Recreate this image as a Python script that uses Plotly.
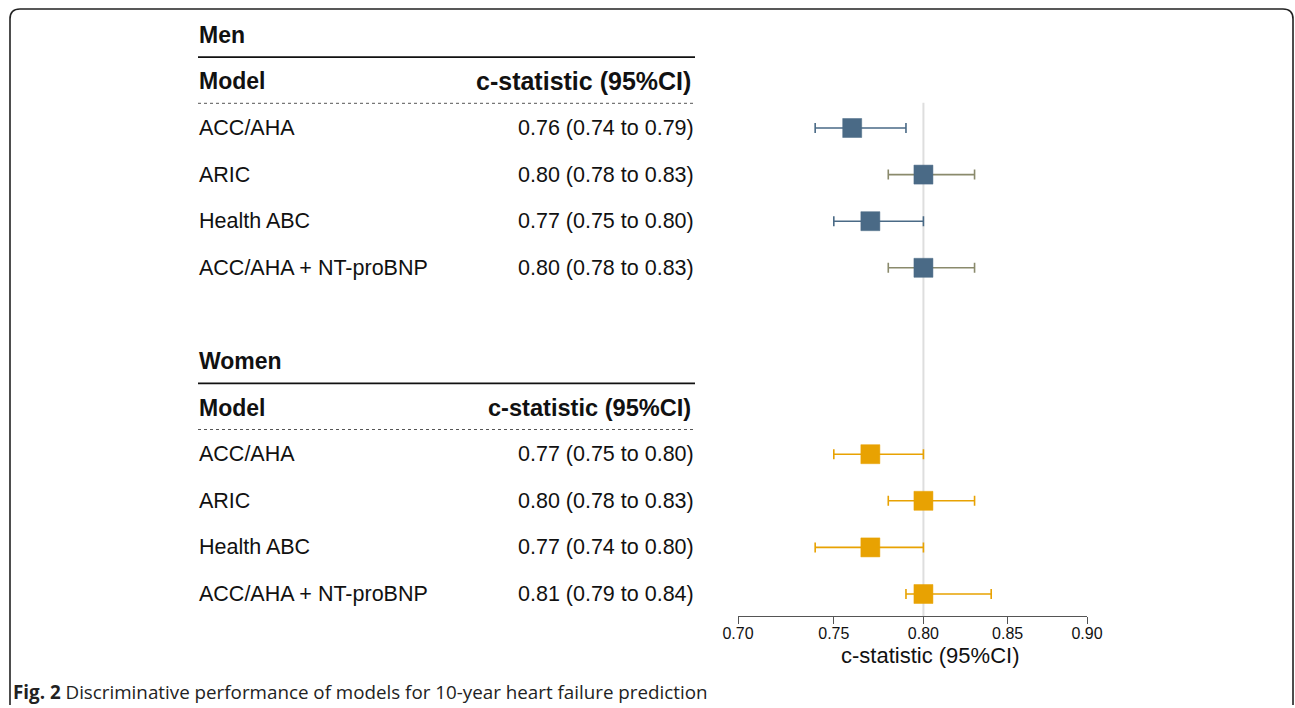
import plotly.graph_objects as go

W, H = 1295, 708

# ---------------- data ----------------
models = ["ACC/AHA", "ARIC", "Health ABC", "ACC/AHA + NT-proBNP"]

men_est = [0.76, 0.80, 0.77, 0.80]
men_lo = [0.74, 0.78, 0.75, 0.78]
men_hi = [0.79, 0.83, 0.80, 0.83]
men_text = ["0.76 (0.74 to 0.79)", "0.80 (0.78 to 0.83)",
            "0.77 (0.75 to 0.80)", "0.80 (0.78 to 0.83)"]

women_est = [0.77, 0.80, 0.77, 0.80]
women_lo = [0.75, 0.78, 0.74, 0.79]
women_hi = [0.80, 0.83, 0.80, 0.84]
women_text = ["0.77 (0.75 to 0.80)", "0.80 (0.78 to 0.83)",
              "0.77 (0.74 to 0.80)", "0.81 (0.79 to 0.84)"]

tick_vals = [0.70, 0.75, 0.80, 0.85, 0.90]
tick_text = ["0.70", "0.75", "0.80", "0.85", "0.90"]
ref_value = 0.80

groups = [
    dict(name="Men", rows=[0, 1, 2, 3], est=men_est, lo=men_lo, hi=men_hi, text=men_text,
         color="#4a6a86", ci_colors=["#4a6a86", "#8a8a6c", "#4a6a86", "#8a8a6c"], hsize=25),
    dict(name="Women", rows=[7, 8, 9, 10], est=women_est, lo=women_lo, hi=women_hi, text=women_text,
         color="#e8a202", ci_colors=["#e8a202"] * 4, hsize=23.6),
]

# ---------------- layout geometry ----------------
ROW0_PX = 128.0
ROW_PX = 46.6
AXIS_PX = 616.0
y_top = -ROW0_PX / ROW_PX
y_bot = (AXIS_PX - ROW0_PX) / ROW_PX

FONT = "Liberation Sans, Arial, sans-serif"
x_left = 197 / W
x_right = 696 / W

fig = go.Figure()

# reference line at 0.80
fig.add_trace(go.Scatter(x=[ref_value, ref_value], y=[-0.54, y_bot], mode="lines",
                         line=dict(color="#dedede", width=2), hoverinfo="skip",
                         showlegend=False, cliponaxis=False))

annotations = []
shapes = []

for g in groups:
    base = g["rows"][0]
    for i, r in enumerate(g["rows"]):
        e, lo, hi = g["est"][i], g["lo"][i], g["hi"][i]
        fig.add_trace(go.Scatter(
            x=[e], y=[r], mode="markers",
            marker=dict(symbol="square", size=19, color=g["color"],
                        line=dict(color=g["color"], width=0.5)),
            error_x=dict(type="data", symmetric=False, array=[hi - e], arrayminus=[e - lo],
                         color=g["ci_colors"][i], thickness=1.6, width=5),
            showlegend=False, cliponaxis=False))
        annotations.append(dict(x=x_left, y=r, xref="paper", yref="y", text=models[i],
                                showarrow=False, xanchor="left", yanchor="middle",
                                font=dict(family=FONT, size=21.5, color="#111")))
        annotations.append(dict(x=x_right, y=r, xref="paper", yref="y", text=g["text"][i],
                                showarrow=False, xanchor="right", yanchor="middle",
                                font=dict(family=FONT, size=21.5, color="#111")))
    # headers
    annotations.append(dict(x=x_left, y=base - 2, xref="paper", yref="y",
                            text="<b>%s</b>" % g["name"], showarrow=False,
                            xanchor="left", yanchor="middle",
                            font=dict(family=FONT, size=23, color="#111")))
    annotations.append(dict(x=x_left, y=base - 1, xref="paper", yref="y",
                            text="<b>Model</b>", showarrow=False,
                            xanchor="left", yanchor="middle",
                            font=dict(family=FONT, size=23, color="#111")))
    annotations.append(dict(x=693 / W, y=base - 1, xref="paper", yref="y",
                            text="<b>c-statistic (95%CI)</b>", showarrow=False,
                            xanchor="right", yanchor="middle",
                            font=dict(family=FONT, size=g["hsize"], color="#111")))
    shapes.append(dict(type="line", xref="paper", yref="y", x0=198 / W, x1=695 / W,
                       y0=base - 1.52, y1=base - 1.52, line=dict(color="#111", width=1.6)))
    shapes.append(dict(type="line", xref="paper", yref="y", x0=198 / W, x1=695 / W,
                       y0=base - 0.53, y1=base - 0.53,
                       line=dict(color="#555", width=1, dash="3px,3px")))


def P(x, y):
    return "%.5f,%.5f" % (x / W, 1 - y / H)


r = 10
L, T, R, B = 10, 9, 1293, 705
path = ("M " + P(L, B) + " L " + P(L, T + r) + " Q " + P(L, T) + " " + P(L + r, T) +
        " L " + P(R - r, T) + " Q " + P(R, T) + " " + P(R, T + r) + " L " + P(R, B))
shapes.append(dict(type="path", xref="paper", yref="paper", path=path,
                   line=dict(color="#222", width=1.6)))

annotations.append(dict(x=11 / W, y=1 - 692 / H, xref="paper", yref="paper",
                        text="<b>Fig. 2</b> Discriminative performance of models for 10-year heart failure prediction",
                        showarrow=False, xanchor="left", yanchor="middle",
                        font=dict(family="Open Sans, Noto Sans, sans-serif", size=18.8, color="#222")))

annotations.append(dict(x=930 / W, y=1 - 655 / H, xref="paper", yref="paper",
                        text="c-statistic (95%CI)", showarrow=False,
                        xanchor="center", yanchor="middle",
                        font=dict(family=FONT, size=22, color="#111")))

fig.update_layout(
    width=W, height=H, autosize=False,
    margin=dict(l=0, r=0, t=0, b=0, pad=0, autoexpand=False),
    paper_bgcolor="white", plot_bgcolor="white",
    showlegend=False,
    xaxis=dict(type="log", domain=[738 / W, 1087 / W],
               range=[-0.15490196, -0.04575749],
               tickvals=tick_vals, ticktext=tick_text,
               showgrid=False, zeroline=False, showline=True, automargin=False,
               linecolor="#555", linewidth=1.2,
               ticks="outside", ticklen=7, tickcolor="#555", tickwidth=1.2,
               ticklabelstandoff=-4,
               tickfont=dict(family=FONT, size=16, color="#111")),
    yaxis=dict(domain=[1 - AXIS_PX / H, 1], range=[y_bot, y_top], automargin=False,
               visible=False, showgrid=False, zeroline=False),
    annotations=annotations,
    shapes=shapes,
)

fig.write_html("out.html",
               config={"displayModeBar": False},
               post_script="document.body.style.margin='0';document.body.style.padding='0';"
                           "document.body.style.overflow='hidden';"
                           "document.documentElement.style.overflow='hidden';")
